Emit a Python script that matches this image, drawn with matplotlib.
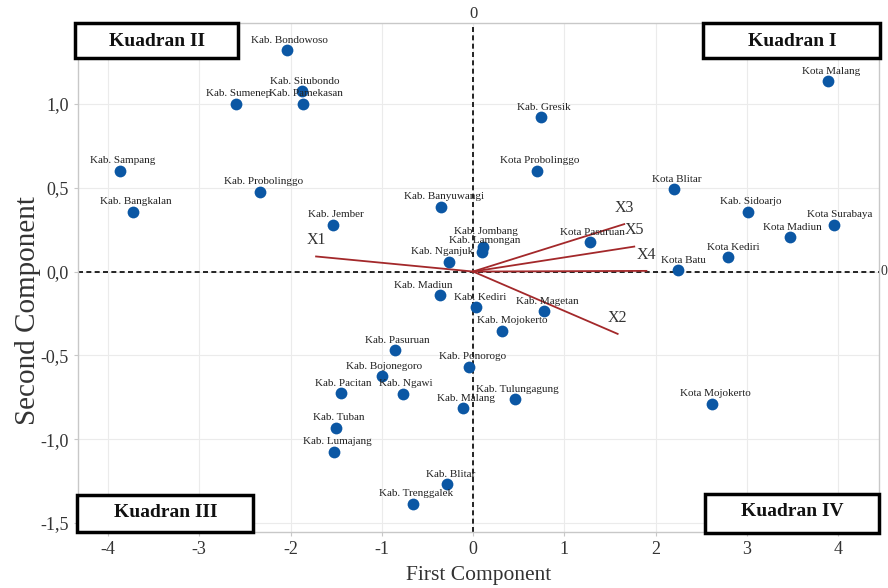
import matplotlib
matplotlib.use("Agg")
import matplotlib.pyplot as plt
from matplotlib.patches import Rectangle

# Region names and their scores on the first two principal components
regions = [
    "Kab. Bondowoso", "Kab. Situbondo", "Kab. Pamekasan", "Kab. Sumenep",
    "Kab. Sampang", "Kab. Bangkalan", "Kab. Probolinggo", "Kab. Jember",
    "Kab. Banyuwangi", "Kab. Nganjuk", "Kab. Jombang", "Kab. Lamongan",
    "Kab. Gresik", "Kota Probolinggo", "Kota Malang", "Kota Blitar",
    "Kab. Sidoarjo", "Kota Surabaya", "Kota Madiun", "Kota Kediri",
    "Kota Batu", "Kota Pasuruan", "Kab. Madiun", "Kab. Kediri",
    "Kab. Magetan", "Kab. Mojokerto", "Kab. Pasuruan", "Kab. Ponorogo",
    "Kab. Bojonegoro", "Kab. Pacitan", "Kab. Ngawi", "Kab. Malang",
    "Kab. Tulungagung", "Kab. Tuban", "Kab. Lumajang", "Kab. Blitar",
    "Kab. Trenggalek", "Kota Mojokerto",
]
pc1 = [
    -2.04, -1.87, -1.86, -2.60,
    -3.87, -3.73, -2.33, -1.53,
    -0.35, -0.26, 0.11, 0.10,
    0.74, 0.70, 3.89, 2.20,
    3.01, 3.96, 3.47, 2.79,
    2.25, 1.28, -0.36, 0.03,
    0.78, 0.32, -0.86, -0.04,
    -1.00, -1.45, -0.77, -0.11,
    0.46, -1.50, -1.52, -0.28,
    -0.66, 2.62,
]
pc2 = [
    1.32, 1.075, 1.00, 1.00,
    0.60, 0.355, 0.475, 0.28,
    0.387, 0.057, 0.148, 0.118,
    0.92, 0.60, 1.135, 0.49,
    0.355, 0.28, 0.205, 0.085,
    0.007, 0.175, -0.142, -0.213,
    -0.238, -0.352, -0.469, -0.567,
    -0.625, -0.725, -0.728, -0.815,
    -0.763, -0.933, -1.077, -1.270,
    -1.385, -0.788,
]

# Variable loadings drawn as vectors from the origin
var_names = ["X1", "X2", "X3", "X4", "X5"]
load1 = [-1.72, 1.585, 1.657, 1.90, 1.767]
load2 = [0.09, -0.372, 0.283, 0.004, 0.149]

x_ticks = [-4, -3, -2, -1, 0, 1, 2, 3, 4]
y_ticks = [-1.5, -1.0, -0.5, 0.0, 0.5, 1.0]
y_tick_labels = ["-1,5", "-1,0", "-0,5", "0,0", "0,5", "1,0"]

quadrants = ["Kuadran I", "Kuadran II", "Kuadran III", "Kuadran IV"]

# horizontal label nudges (points) where names would collide
label_dx = {
    "Kab. Madiun": -12, "Kab. Nganjuk": -5, "Kota Batu": 4, "Kota Kediri": 4,
    "Kota Surabaya": 4, "Kab. Mojokerto": 7, "Kab. Kediri": 3,
}
label_dy = {"Kab. Lamongan": 1, "Kab. Jombang": 4}

SERIF = ["Liberation Serif", "DejaVu Serif"]
plt.rcParams["font.family"] = SERIF

fig = plt.figure(figsize=(8.88, 5.88), dpi=100)
ax = fig.add_axes([0.08784, 0.09524, 0.90203, 0.86565])

ax.set_xlim(-4.329, 4.449)
ax.set_ylim(-1.554, 1.483)

ax.grid(True, color="#ebebeb", linewidth=0.8, zorder=0)
ax.set_axisbelow(True)
for s in ax.spines.values():
    s.set_color("#c8c8c8")
    s.set_linewidth(1.0)

ax.axhline(0, color="black", linestyle=(0, (3, 2)), linewidth=1.2, zorder=1)
ax.axvline(0, color="black", linestyle=(0, (3, 2)), linewidth=1.2, zorder=1)

arrow_color = "#a3282a"
for name, a, b in zip(var_names, load1, load2):
    ax.plot([0, a], [0, b], color=arrow_color, linewidth=1.3, zorder=2)
    ax.annotate(name, (a, b), xytext=(0, 6), textcoords="offset points",
                ha="center", va="bottom", fontsize=11.5, color="#333333",
                zorder=4)

ax.scatter(pc1, pc2, s=72, color="#0b57a4", zorder=3, linewidths=0)

for name, a, b in zip(regions, pc1, pc2):
    ax.annotate(name, (a, b),
                xytext=(label_dx.get(name, 2), 4 + label_dy.get(name, 0)),
                textcoords="offset points", ha="center", va="bottom",
                fontsize=8, color="#222222", zorder=4)

# quadrant captions: (box x0, x1, y0, y1, text x, text y) in data units
quad_boxes = [
    (2.521, 4.460, 1.274, 1.483, 3.496, 1.372),
    (-4.362, -2.575, 1.274, 1.483, -3.463, 1.372),
    (-4.343, -2.411, -1.554, -1.333, -3.364, -1.440),
    (2.542, 4.449, -1.558, -1.327, 3.496, -1.433),
]
for q, (x0, x1, y0, y1, tx, ty) in zip(quadrants, quad_boxes):
    ax.add_patch(Rectangle((x0, y0), x1 - x0, y1 - y0, facecolor="white",
                           edgecolor="black", linewidth=2.5, zorder=5,
                           clip_on=False))
    ax.text(tx, ty, q, ha="center", va="center", fontsize=14,
            fontweight="bold", zorder=6, color="#111111")

ax.set_xticks(x_ticks)
ax.set_xticklabels([str(t) for t in x_ticks])
ax.set_yticks(y_ticks)
ax.set_yticklabels(y_tick_labels)
ax.tick_params(axis="both", colors="#c8c8c8", labelcolor="#333333",
               labelsize=13, length=3, width=0.8)

ax.set_xlabel("First Component", fontsize=15.5, color="#333333", labelpad=6)
ax.set_ylabel("Second Component", fontsize=21, color="#333333")
ax.yaxis.set_label_coords(-0.046, 0.436)

# origin markers on the opposite axes
ax.annotate("0", (0, 1.0), xycoords=("data", "axes fraction"),
            xytext=(0, 1), textcoords="offset points", ha="center",
            va="bottom", fontsize=12, color="#333333")
ax.annotate("0", (1.0, 0), xycoords=("axes fraction", "data"),
            xytext=(1, 0), textcoords="offset points", ha="left",
            va="center", fontsize=10, color="#333333")

fig.savefig("out.png", dpi=100)
